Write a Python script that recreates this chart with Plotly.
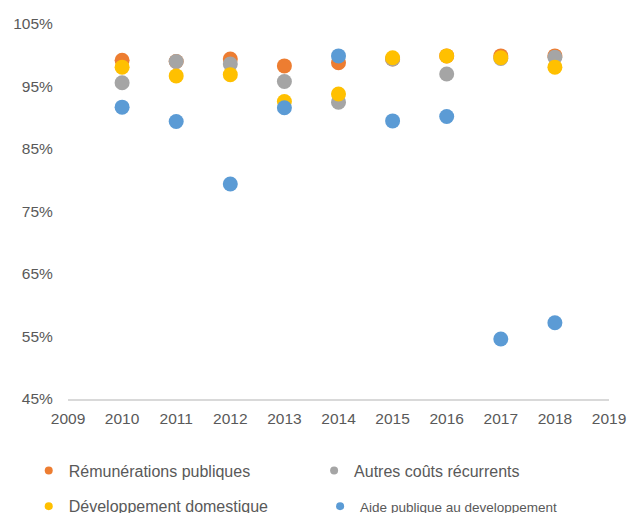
import plotly.graph_objects as go

years = [2010, 2011, 2012, 2013, 2014, 2015, 2016, 2017, 2018]
remunerations = [99.2, 99.0, 99.4, 98.3, 98.8, 99.4, 99.9, 99.9, 99.9]
autres = [95.6, 99.0, 98.6, 95.8, 92.5, 99.4, 97.0, 99.5, 99.7]
developpement = [98.1, 96.7, 96.9, 92.6, 93.8, 99.6, 99.9, 99.6, 98.1]
aide = [91.7, 89.4, 79.4, 91.6, 99.9, 89.5, 90.2, 54.6, 57.2]

names = ["Rémunérations publiques", "Autres coûts récurrents",
         "Développement domestique",
         "<span style='font-size:13.5px'>Aide publique au developpement</span>"]
colors = ["#ED7D31", "#A5A5A5", "#FFC000", "#5B9BD5"]
series = [remunerations, autres, developpement, aide]
legend_ids = ["legend", "legend2", "legend3", "legend4"]

fig = go.Figure()
for name, col, vals in zip(names, colors, series):
    fig.add_trace(go.Scatter(x=years, y=vals, mode="markers", showlegend=False,
                             marker=dict(color=col, size=15), hoverinfo="x+y"))
for name, col, lg in zip(names, colors, legend_ids):
    fig.add_trace(go.Scatter(x=[None], y=[None], mode="markers", name=name,
                             marker=dict(color=col, size=8), legend=lg))

leg_common = dict(orientation="h", xanchor="left", yanchor="middle", itemwidth=30,
                  font=dict(size=16, color="#595959"), bgcolor="rgba(0,0,0,0)")

fig.update_layout(
    width=627, height=513,
    margin=dict(l=68, r=18, t=24, b=114, autoexpand=False),
    paper_bgcolor="white", plot_bgcolor="white",
    font=dict(family="Liberation Sans, Arial", size=15.5, color="#595959"),
    xaxis=dict(range=[2009, 2019], dtick=1, tick0=2009, showgrid=False,
               showline=True, linecolor="#D9D9D9", linewidth=1.5,
               zeroline=False, ticks="outside", ticklen=5, tickcolor="rgba(0,0,0,0)",
               tickfont=dict(size=15.5)),
    yaxis=dict(range=[45, 105], dtick=10, tick0=45, showgrid=False,
               zeroline=False, ticksuffix="%", ticks="outside", ticklen=11,
               tickcolor="rgba(0,0,0,0)", tickfont=dict(size=15.5)),
    legend=dict(x=-0.0726, y=-0.191, **leg_common),
    legend2=dict(x=0.4549, y=-0.191, **leg_common),
    legend3=dict(x=-0.0726, y=-0.286, **leg_common),
    legend4=dict(x=0.466, y=-0.286, **leg_common),
)
fig.write_html("out.html", config={"displayModeBar": False},
               post_script="document.body.style.margin='0px';document.body.style.overflow='hidden';")
